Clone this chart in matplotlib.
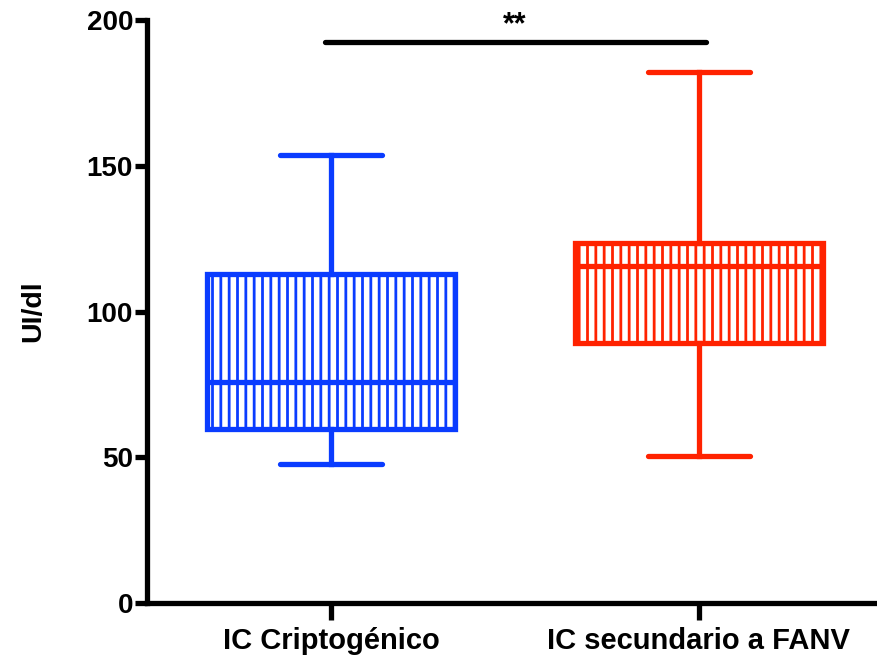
import matplotlib
matplotlib.use("Agg")
import matplotlib.pyplot as plt

# Box summary values (UI/dl)
groups = ["IC Criptogénico", "IC secundario a FANV"]
whislo = [47.7, 50.4]
q1 = [59.7, 89.2]
medians = [75.8, 115.6]
q3 = [112.9, 123.5]
whishi = [153.7, 182.2]
colors = ["#0A3CFF", "#FF2200"]

sig_y = 192.4
sig_label = "**"
yticks = [0, 50, 100, 150, 200]

plt.rcParams["font.family"] = ["Liberation Sans", "DejaVu Sans"]
plt.rcParams["font.weight"] = "bold"
plt.rcParams["hatch.linewidth"] = 2.0

fig = plt.figure(figsize=(8.77, 6.55), dpi=100)
ax = fig.add_axes([147 / 877, 52 / 655, 730 / 877, 583 / 655])

positions = [1, 2]
for i, pos in enumerate(positions):
    stats = [dict(med=medians[i], q1=q1[i], q3=q3[i],
                  whislo=whislo[i], whishi=whishi[i], label=groups[i])]
    c = colors[i]
    ax.bxp(stats, positions=[pos], widths=0.674, capwidths=0.275,
           showfliers=False, patch_artist=True,
           boxprops=dict(facecolor="white", edgecolor=c, linewidth=3.8, hatch="||"),
           medianprops=dict(color=c, linewidth=3.8),
           whiskerprops=dict(color=c, linewidth=3.8),
           capprops=dict(color=c, linewidth=3.8, solid_capstyle="round"),
           manage_ticks=False)

# significance bar
ax.plot([0.985, 2.02], [sig_y, sig_y], color="black", lw=3.8,
        solid_capstyle="round", clip_on=False)
ax.text(1.5, sig_y + 0.8, sig_label, ha="center", va="bottom",
        fontsize=22, fontweight="bold")

ax.set_xlim(0.5, 2.484)
ax.set_ylim(0, 200)
ax.set_yticks(yticks)
ax.set_xticks(positions)
ax.set_xticklabels(groups, fontsize=21, fontweight="bold")
ax.tick_params(axis="y", labelsize=20, width=3.8, length=9, pad=1)
ax.tick_params(axis="x", width=3.8, length=12, pad=5)
for lab in ax.get_yticklabels():
    lab.set_fontweight("bold")
ax.set_ylabel("UI/dl", fontsize=20.5, fontweight="bold", labelpad=29)

ax.spines["top"].set_visible(False)
ax.spines["right"].set_visible(False)
ax.spines["left"].set_linewidth(3.8)
ax.spines["bottom"].set_linewidth(3.8)

fig.savefig("out.png", dpi=100)
